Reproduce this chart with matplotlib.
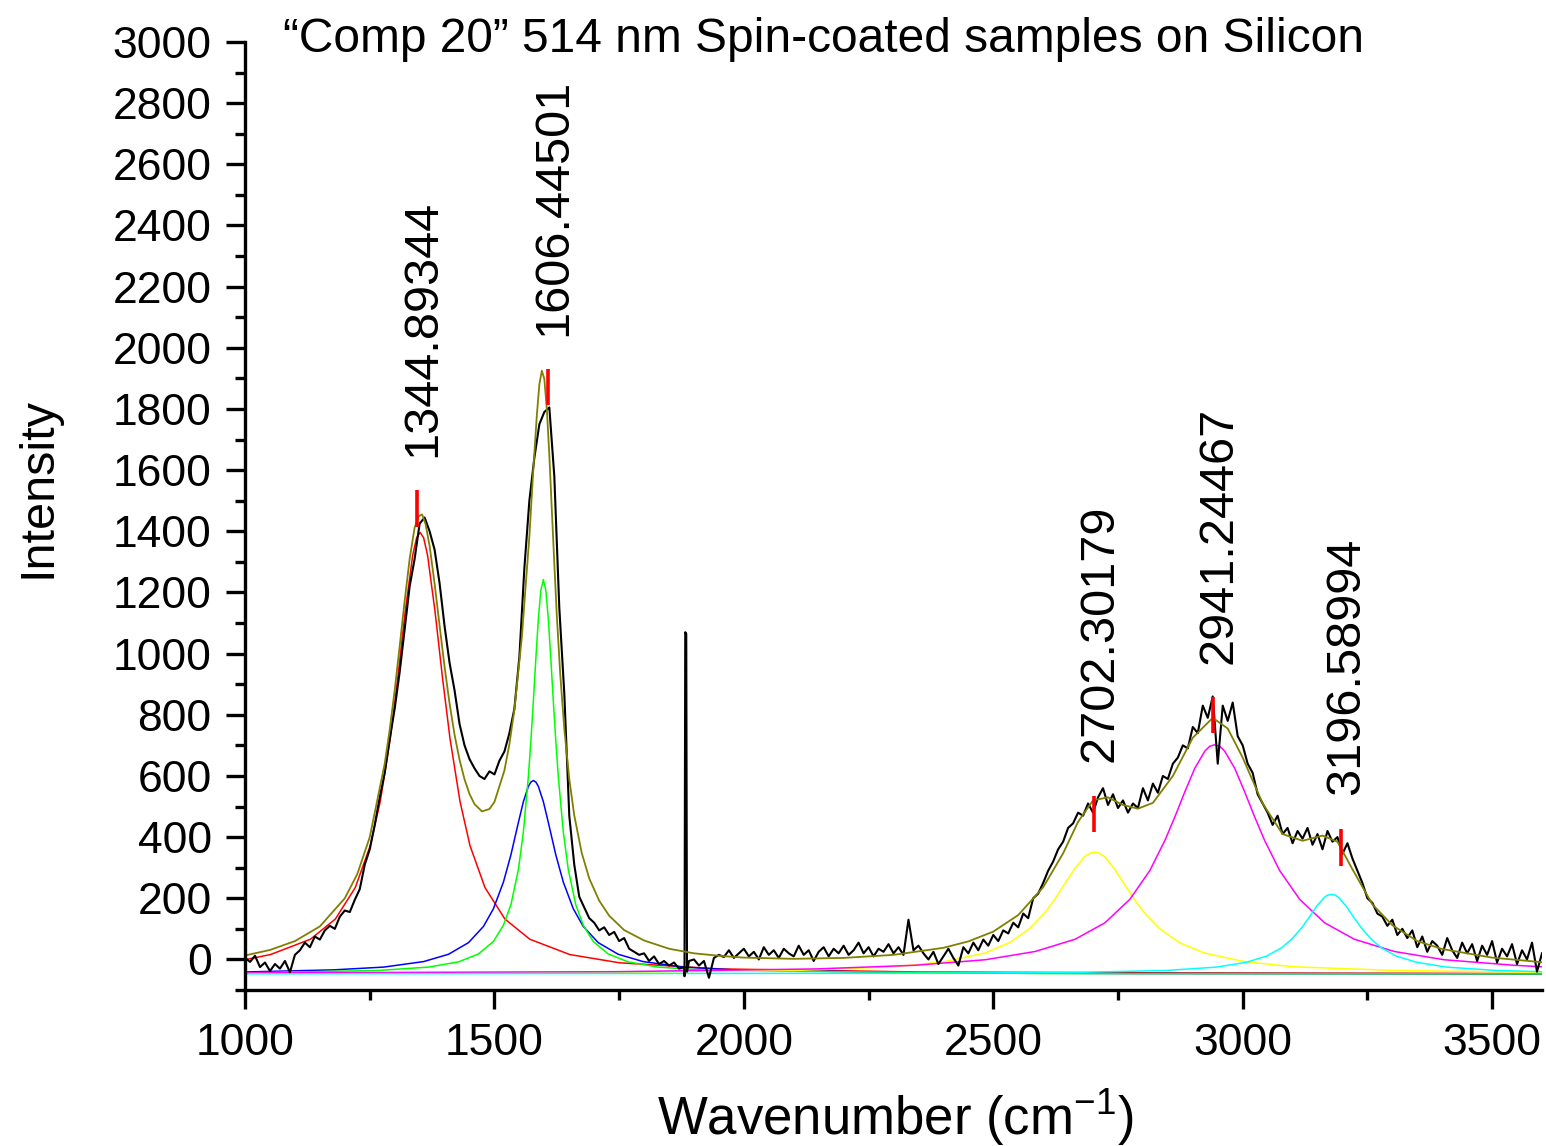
import numpy as np
import matplotlib.pyplot as plt
from matplotlib.ticker import MultipleLocator

plt.rcParams['font.family'] = ['Liberation Sans', 'DejaVu Sans']
plt.rcParams['mathtext.default'] = 'regular'

# measured spectrum, one value every 10 cm-1 from 1000 to 3600
wavenumber = np.arange(1000, 3601, 10)
intensity = [
    5, -8, 12, -25, -10, -38, -15, -30, -5, -42,
    15, 30, 55, 40, 75, 65, 95, 110, 100, 140,
    160, 155, 195, 230, 310, 360, 440, 530, 610, 720,
    820, 940, 1080, 1220, 1310, 1425, 1445, 1400, 1340, 1230,
    1090, 970, 880, 770, 700, 655, 625, 600, 590, 615,
    605, 650, 680, 740, 820, 990, 1280, 1500, 1640, 1750,
    1790, 1805, 1580, 1150, 870, 470, 310, 205, 170, 135,
    120, 95, 105, 80, 90, 60, 70, 35, 25, 15,
    20, -5, 10, -15, -5, -20, -10, -30, -25, -5,
    0, -20, -5, -60, 5, 15, 8, 30, 5, 20,
    35, 10, 25, 0, 40, 15, 30, 5, 35, 20,
    10, 45, 15, 30, -5, 25, 40, 10, 35, 20,
    45, 15, 30, 55, 20, 40, 10, 35, 25, 50,
    20, 40, 15, 130, 30, 45, 20, 0, 25, -15,
    10, 35, 5, -20, 40, 20, 55, 30, 65, 45,
    80, 60, 95, 85, 120, 105, 150, 135, 200, 215,
    250, 290, 320, 360, 385, 430, 445, 480, 470, 510,
    480, 530, 560, 505, 540, 495, 520, 480, 510, 495,
    560, 520, 575, 545, 600, 590, 640, 660, 700, 690,
    760, 740, 830, 790, 860, 640, 830, 780, 840, 730,
    700, 640, 610, 540, 510, 480, 440, 470, 410, 430,
    380, 420, 395, 430, 375, 410, 360, 420, 385, 400,
    345, 380, 330, 290, 250, 200, 185, 150, 140, 110,
    130, 80, 100, 70, 95, 40, 75, 25, 60, 45,
    15, 70, 30, 5, 55, 20, 50, -5, 45, 15,
    60, -10, 35, 10, 50, -15, 30, 0, 55, -40,
    20,
]
# narrow spike near 1883 cm-1
spike_wavenumber = [1881, 1882.5, 1884.5, 1886]
spike_intensity = [-55, 1070, 1065, -40]

# fitted peak components
red_x = [1000, 1051, 1131, 1181, 1221, 1251, 1271, 1291, 1306, 1321, 1336, 1344, 1351, 1358, 1366,
         1381, 1396, 1411, 1431, 1451, 1481, 1521, 1571, 1651, 1751, 1951, 2351, 2851, 3600]
red_y = [-1, 16, 66, 132, 235, 372, 516, 721, 919, 1136, 1321, 1379, 1396, 1379, 1321,
         1136, 919, 721, 516, 372, 235, 132, 66, 16, -11, -31, -41, -44, -46]

blue_x = [1000, 1178, 1278, 1358, 1408, 1448, 1478, 1498, 1518, 1533, 1548, 1558, 1568, 1573, 1578,
          1583, 1588, 1598, 1608, 1623, 1638, 1658, 1678, 1708, 1748, 1798, 1878, 1978, 2378, 2778,
          3600]
blue_y = [-41, -34, -25, -7, 17, 55, 108, 166, 253, 342, 448, 516, 566, 580, 585,
          580, 566, 516, 448, 342, 253, 166, 108, 55, 17, -7, -25, -34, -44, -46,
          -47]

green_x = [1000, 1268, 1368, 1428, 1468, 1498, 1518, 1533, 1548, 1558, 1568, 1573, 1578, 1583, 1588,
           1593, 1598, 1603, 1608, 1613, 1618, 1623, 1628, 1638, 1648, 1663, 1678, 1698, 1728, 1768,
           1828, 1928, 2598, 3600]
green_y = [-44, -36, -25, -8, 18, 59, 112, 179, 294, 417, 598, 714, 845, 984, 1113,
           1207, 1242, 1207, 1113, 984, 845, 714, 598, 417, 294, 179, 112, 59, 18, -8,
           -25, -36, -46, -47]

yellow_x = [1000, 1703, 2103, 2303, 2403, 2483, 2533, 2573, 2603, 2623, 2643, 2663, 2683, 2693, 2703,
            2713, 2723, 2743, 2763, 2783, 2803, 2833, 2873, 2923, 3003, 3103, 3303, 3600]
yellow_y = [-46, -43, -36, -24, -7, 21, 55, 101, 152, 196, 246, 296, 336, 347, 351,
            347, 336, 296, 246, 196, 152, 101, 55, 21, -7, -24, -36, -42]

magenta_x = [1000, 1744, 2144, 2344, 2484, 2584, 2664, 2724, 2774, 2814, 2844, 2864, 2884, 2904, 2924,
             2934, 2944, 2954, 2964, 2984, 3004, 3024, 3044, 3074, 3114, 3164, 3224, 3304, 3404, 3544,
             3600]
magenta_y = [-44, -40, -31, -19, -1, 26, 66, 120, 197, 291, 389, 466, 548, 625, 681,
             697, 702, 697, 681, 625, 548, 466, 389, 291, 197, 120, 66, 26, -1, -19,
             -24]

cyan_x = [1000, 2378, 2678, 2848, 2948, 3008, 3048, 3078, 3098, 3118, 3133, 3148, 3163, 3170, 3178,
          3186, 3193, 3208, 3223, 3238, 3258, 3278, 3308, 3348, 3408, 3508, 3600]
cyan_y = [-47, -45, -42, -36, -25, -9, 11, 38, 66, 103, 137, 173, 202, 210, 213,
          210, 202, 173, 137, 103, 66, 38, 11, -9, -25, -36, -40]

# cumulative fit
fit_x = [1000, 1050, 1100, 1150, 1200, 1225, 1250, 1280, 1290, 1300, 1310, 1320, 1330, 1340, 1348,
         1355, 1362, 1370, 1380, 1390, 1400, 1410, 1420, 1430, 1440, 1450, 1460, 1475, 1490, 1500,
         1520, 1530, 1540, 1555, 1562, 1570, 1578, 1585, 1590, 1595, 1600, 1605, 1610, 1615, 1620,
         1625, 1632, 1640, 1650, 1660, 1675, 1690, 1710, 1730, 1760, 1800, 1850, 1900, 1950, 2000,
         2100, 2200, 2300, 2400, 2450, 2500, 2550, 2600, 2640, 2670, 2700, 2730, 2760, 2790, 2820,
         2860, 2900, 2940, 2970, 3000, 3040, 3080, 3120, 3160, 3190, 3220, 3260, 3300, 3350, 3400,
         3500, 3600]
fit_y = [13, 31, 60, 108, 200, 279, 400, 640, 751, 880, 1024, 1172, 1310, 1412, 1449,
         1455, 1423, 1352, 1229, 1092, 957, 837, 735, 653, 589, 541, 508, 484, 492, 515,
         618, 704, 818, 1055, 1210, 1383, 1605, 1780, 1880, 1925, 1898, 1800, 1650, 1470, 1295,
         1124, 930, 754, 590, 471, 348, 265, 192, 143, 96, 62, 35, 20, 12, 6,
         2, 5, 15, 38, 59, 91, 145, 236, 347, 450, 520, 530, 505, 493, 512,
         600, 725, 790, 755, 660, 510, 410, 388, 405, 385, 295, 180, 112, 60, 34,
         6, -9]

# peak positions found by the fit
peak_centers = [1344.89344, 1606.44501, 2702.30179, 2941.24467, 3196.58994]
peak_labels = ['1344.89344', '1606.44501', '2702.30179', '2941.24467', '3196.58994']
marker_low = [1413, 1812, 417, 739, 307]
marker_high = [1534, 1930, 536, 857, 428]

title = '\u201cComp 20\u201d 514 nm Spin-coated samples on Silicon'

x_all = np.concatenate([wavenumber, spike_wavenumber])
y_all = np.concatenate([intensity, spike_intensity])
order = np.argsort(x_all)

fig = plt.figure(figsize=(15.46, 11.46), dpi=100)
ax = fig.add_axes([0.1585, 0.1361, 0.8389, 0.8273])

lw = 1.1
ax.plot(red_x, red_y, color='#ff0000', lw=lw)
ax.plot(blue_x, blue_y, color='#0000ff', lw=lw)
ax.plot(green_x, green_y, color='#00ff00', lw=lw)
ax.plot(yellow_x, yellow_y, color='#ffff00', lw=lw)
ax.plot(magenta_x, magenta_y, color='#ff00ff', lw=lw)
ax.plot(cyan_x, cyan_y, color='#00ffff', lw=lw)
ax.plot(x_all[order], y_all[order], color='black', lw=1.5)
ax.plot(fit_x, fit_y, color='#808000', lw=1.3)
ax.vlines(peak_centers, marker_low, marker_high, color='#ff0000', lw=2.6)

for xc, label, top in zip(peak_centers, peak_labels, marker_high):
    ax.text(xc + 12, top + 110, label, rotation=90, ha='center', va='bottom', fontsize=35)

ax.set_xlim(1000, 3600)
ax.set_ylim(-100, 3000)
ax.xaxis.set_major_locator(MultipleLocator(500))
ax.xaxis.set_minor_locator(MultipleLocator(250))
ax.yaxis.set_major_locator(MultipleLocator(200))
ax.yaxis.set_minor_locator(MultipleLocator(100))

for side in ['top', 'right']:
    ax.spines[side].set_visible(False)
for side in ['left', 'bottom']:
    ax.spines[side].set_linewidth(2.4)
ax.tick_params(which='major', direction='out', length=14, width=2.4, labelsize=32, pad=10)
ax.tick_params(which='minor', direction='out', length=7, width=2.4)

fig.text(0.183, 0.9546, title, fontsize=34.5, ha='left', va='baseline')
fig.text(0.0246, 0.575, 'Intensity', rotation=90, ha='center', va='center', fontsize=35)
fig.text(0.579, 0.0244, 'Wavenumber (cm$^{-1}$)', ha='center', va='center', fontsize=38)

fig.savefig('out.png', dpi=100)
